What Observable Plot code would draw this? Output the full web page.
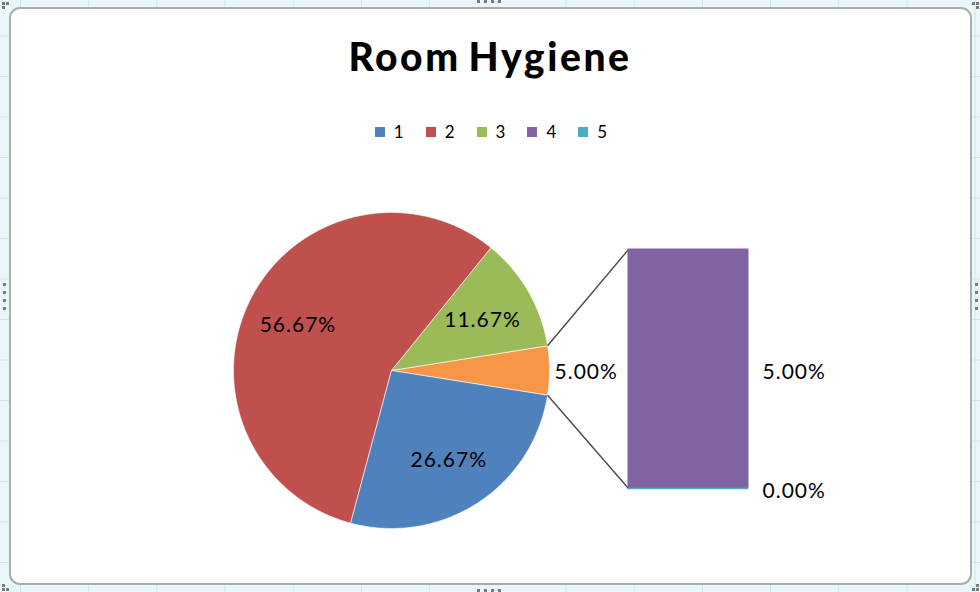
<!DOCTYPE html>
<html>
<head>
<meta charset="utf-8">
<script src="https://cdn.jsdelivr.net/npm/d3@7"></script>
<script src="https://cdn.jsdelivr.net/npm/@observablehq/plot@0.6"></script>
<style>
html, body { margin: 0; padding: 0; }
body {
  width: 980px; height: 592px; overflow: hidden; position: relative;
  background-color: #e9f7fb;
  background-image:
    linear-gradient(to right, #cfe4ea 1px, transparent 1px),
    linear-gradient(to bottom, #cfe4ea 1px, transparent 1px);
  background-size: 68.2px 100%, 100% 40.5px;
  background-position: 20px 0, 0 -5px;
  font-family: Lato, "Open Sans", sans-serif;
}
#frame {
  position: absolute; left: 9px; top: 7px; width: 959px; height: 574px;
  border: 2px solid #ababab; border-radius: 11px; background: #fff;
}
#title {
  position: absolute; left: 0; width: 980px; top: 37px; text-align: center;
  font-family: Lato, sans-serif; font-weight: 900; font-size: 39px; line-height: 39px;
  letter-spacing: 2.6px; word-spacing: -4px; color: #000;
}
#legend { position: absolute; left: 0; width: 980px; top: 121px; height: 20px; }
#legend .lg-swatches { display: flex !important; justify-content: center !important; align-items: center !important;
  min-height: 20px !important; margin: 0 !important; padding-left: 2px !important; font-family: Lato, sans-serif !important; font-size: 17px !important; color: #000 !important; }
#legend .lg-swatch { margin-right: 22px !important; margin-left: 0 !important; }
#legend .lg-swatch > svg { margin-right: 9px !important; }
#legend .lg-swatch:last-child { margin-right: 0 !important; }
#chart { position: absolute; left: 0; top: 170px; }
#chart text { letter-spacing: 1px; }
.h { position: absolute; width: 3px; height: 3px; background: #7a7a7a; }
</style>
</head>
<body>
<div id="frame"></div>
<div id="title">Room Hygiene</div>
<div id="legend"></div>
<div id="chart"></div>
<div id="handles"></div>
<script>
// ---- data ----
const categories = ["1", "2", "3", "4", "5"];
const shares = [26.67, 56.67, 11.67, 5.00, 0.00];
const colors = ["#4f81bd", "#c0504d", "#9bbb59", "#8064a2", "#4bacc6"];
const otherKey = "Other";
const otherColor = "#f79646";
const pieCount = 3; // first three categories stay in the pie, the rest go to the bar

// ---- layout ----
const W = 980, H = 400;
const cx = 391, cy = 200, R = 158;
const barX1 = 628, barX2 = 748, barTop = 79, barBottom = 318;
const labelFont = "Lato, 'Open Sans', sans-serif";
const labelSize = 21;

const total = d3.sum(shares);
const otherTotal = d3.sum(shares.slice(pieCount));
const fmt = v => v.toFixed(2) + "%";
const pt = (a, rr) => [cx + rr * Math.cos(a), cy - rr * Math.sin(a)];

// pie items counter-clockwise starting with the "Other" slice centred on the right
const pieItems = [{key: otherKey, value: otherTotal}]
  .concat(categories.slice(0, pieCount).map((k, i) => ({key: k, value: shares[i]})).reverse());

let a = -otherTotal / total * Math.PI;
const slices = pieItems.map(d => {
  const a0 = a, a1 = a + d.value / total * 2 * Math.PI;
  a = a1;
  return {...d, a0, a1};
});

const polyPts = [];
for (const s of slices) {
  const c = pt(0, 0);
  polyPts.push({key: s.key, x: c[0], y: c[1]});
  const n = Math.max(2, Math.ceil((s.a1 - s.a0) / (Math.PI / 360)));
  for (let i = 0; i <= n; i++) {
    const p = pt(s.a0 + (s.a1 - s.a0) * i / n, R);
    polyPts.push({key: s.key, x: p[0], y: p[1]});
  }
  polyPts.push({key: s.key, x: c[0], y: c[1]});
}

const innerLabels = slices.filter(s => s.key !== otherKey).map(s => {
  const p = pt((s.a0 + s.a1) / 2, R * 0.665);
  return {x: p[0], y: p[1] + 2, text: fmt(s.value)};
});
const outerLabels = slices.filter(s => s.key === otherKey).map(s => {
  const p = pt((s.a0 + s.a1) / 2, R + 5);
  return {x: p[0], y: p[1] + 2, text: fmt(s.value)};
});

// connector lines from the "Other" slice edges to the bar corners
const otherSlice = slices[0];
const upper = pt(otherSlice.a1, R), lower = pt(otherSlice.a0, R);
const connectors = [
  {x1: upper[0], y1: upper[1], x2: barX1, y2: barTop},
  {x1: lower[0], y1: lower[1], x2: barX1, y2: barBottom}
];

// stacked bar (bottom to top: last category first)
const barY = v => barBottom - v / otherTotal * (barBottom - barTop);
let cum = 0;
const barSegs = categories.slice(pieCount).map((k, i) => ({key: k, value: shares[pieCount + i]})).reverse().map(d => {
  const s = {...d, y1: barY(cum), y2: barY(cum + d.value)};
  cum += d.value;
  return s;
});
const barLabels = barSegs.map(s => ({x: barX2 + 14, y: (s.y1 + s.y2) / 2 + 3, text: fmt(s.value)}));

const colorDomain = categories.concat([otherKey]);
const colorRange = colors.concat([otherColor]);

const chart = Plot.plot({
  width: W, height: H,
  margin: 0,
  x: {domain: [0, W], range: [0, W], axis: null},
  y: {domain: [0, H], range: [0, H], axis: null},
  color: {domain: colorDomain, range: colorRange},
  style: {background: "transparent", overflow: "visible"},
  marks: [
    Plot.line(polyPts, {x: "x", y: "y", z: "key", fill: "key", stroke: "white", strokeWidth: 1, strokeOpacity: 0.6, curve: "linear"}),
    Plot.link(connectors, {x1: "x1", y1: "y1", x2: "x2", y2: "y2", stroke: "#4a4a4a", strokeWidth: 1.4}),
    Plot.rect(barSegs.filter(s => s.value > 0), {x1: barX1, x2: barX2, y1: "y1", y2: "y2", fill: "key", stroke: "key", strokeWidth: 1}),
    Plot.ruleY(barSegs.filter(s => s.value === 0), {y: "y1", x1: barX1, x2: barX2, stroke: "key", strokeWidth: 1.5}),
    Plot.text(innerLabels, {x: "x", y: "y", text: "text", textAnchor: "middle", fontSize: labelSize, fontFamily: labelFont, fill: "#000"}),
    Plot.text(outerLabels, {x: "x", y: "y", text: "text", textAnchor: "start", fontSize: labelSize, fontFamily: labelFont, fill: "#000"}),
    Plot.text(barLabels, {x: "x", y: "y", text: "text", textAnchor: "start", fontSize: labelSize, fontFamily: labelFont, fill: "#000"})
  ]
});
document.getElementById("chart").appendChild(chart);

const legend = Plot.legend({
  color: {domain: categories, range: colors},
  legend: "swatches", swatchSize: 10, className: "lg"
});
document.getElementById("legend").appendChild(legend);

// selection handles of the chart frame
const handles = [
  [2,2],[6,2],[2,6],[972,2],[976,2],[976,6],[2,584],[2,588],[6,588],[972,588],[976,588],[976,584],
  [477,0],[484,0],[491,0],[498,0],[477,589],[484,589],[491,589],[498,589],
  [3,283],[3,291],[3,299],[3,307],[975,283],[975,291],[975,299],[975,307]
];
const hd = document.getElementById("handles");
handles.forEach(([x, y]) => { const e = document.createElement("div"); e.className = "h"; e.style.left = x + "px"; e.style.top = y + "px"; hd.appendChild(e); });
</script>
</body>
</html>
